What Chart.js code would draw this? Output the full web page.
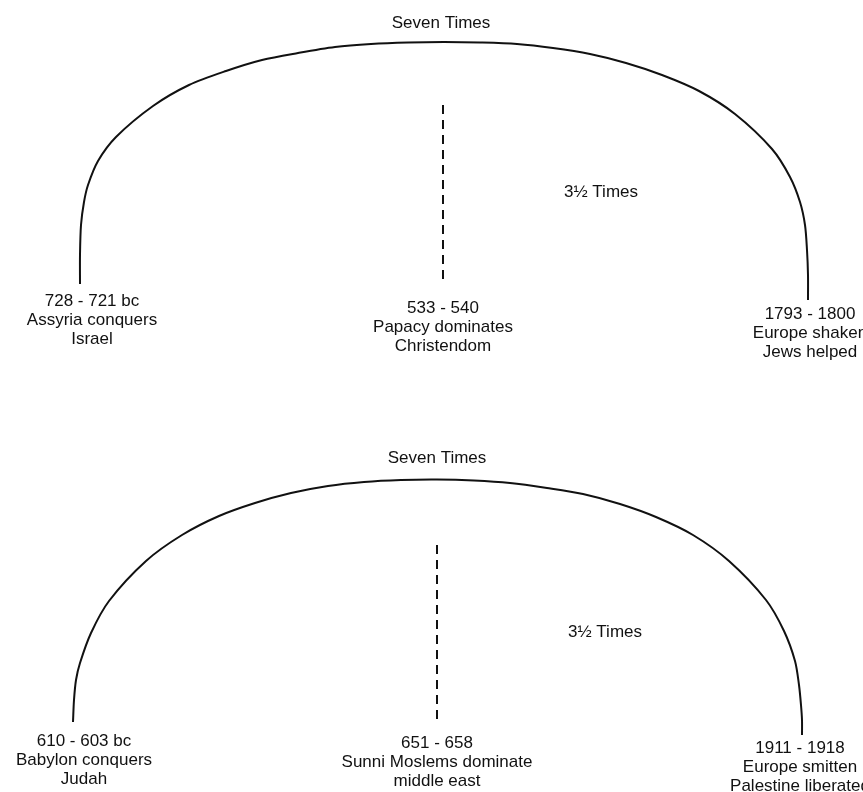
<!DOCTYPE html>
<html>
<head>
<meta charset="utf-8">
<script src="https://cdn.jsdelivr.net/npm/chart.js@4.4.1/dist/chart.umd.min.js"></script>
<style>
    html, body { margin: 0; padding: 0; background: #fff; }
    #wrap { position: relative; width: 863px; height: 792px; }
</style>
</head>
<body>
<div id="wrap"><canvas id="diagram-area"></canvas></div>
<script>
// arcs, x / y in picture units
var topArcX = [80, 80, 81, 84, 88, 98, 116, 153, 189, 226, 262, 298, 335, 371, 408, 444,
    480, 517, 553, 590, 626, 662, 699, 735, 772, 790, 800, 805, 807, 808, 808];
var topArcY = [284, 255, 225, 202, 185, 161, 137, 106, 85, 71, 60, 53, 47, 44, 42.5, 42,
    42.5, 44, 48, 54, 63, 75, 91, 114, 149, 177, 202, 225, 250, 275, 300];
var bottomArcX = [73, 74, 76, 80, 91, 109, 146, 182, 219, 255, 291, 328, 364, 401, 437,
    474, 510, 547, 583, 620, 656, 693, 729, 766, 784, 795, 799, 801, 802, 802];
var bottomArcY = [722, 700, 680, 663, 633, 601, 561, 535, 516, 503, 493, 486, 482, 480, 479.5,
    480.5, 483, 488, 494, 504, 517, 535, 561, 600, 631, 661, 685, 705, 720, 735];

// dashed mid lines
var midLineX = [443, 437];
var midLineTop = [105, 545];
var midLineBottom = [283, 722];

// texts
var titleText = ["Seven Times", "Seven Times"];
var titleX = [441, 437];
var titleY = [23, 458];
var halfText = ["3\u00BD Times", "3\u00BD Times"];
var halfX = [601, 605];
var halfY = [192, 632];

var eventLabels = [
    ["728 - 721 bc", "Assyria conquers", "Israel"],
    ["533 - 540", "Papacy dominates", "Christendom"],
    ["1793 - 1800", "Europe shaken", "Jews helped"],
    ["610 - 603 bc", "Babylon conquers", "Judah"],
    ["651 - 658", "Sunni Moslems dominate", "middle east"],
    ["1911 - 1918", "Europe smitten", "Palestine liberated"]
];
var eventX = [92, 443, 810, 84, 437, 800];
var eventY = [301, 308, 314, 741, 743, 748];

function toPoints(xs, ys) {
    var arr = [];
    for (var i = 0; i < xs.length; i++) {
        arr.push({x: xs[i], y: ys[i]});
    }
    return arr;
}

var inkColor = '#111111';

var datasets = [
    {data: toPoints(topArcX, topArcY), borderColor: inkColor, borderWidth: 2, tension: 0.3, pointRadius: 0, fill: false, showLine: true},
    {data: toPoints(bottomArcX, bottomArcY), borderColor: inkColor, borderWidth: 2, tension: 0.3, pointRadius: 0, fill: false, showLine: true}
];
for (var m = 0; m < midLineX.length; m++) {
    datasets.push({
        data: [{x: midLineX[m], y: midLineTop[m]}, {x: midLineX[m], y: midLineBottom[m]}],
        borderColor: inkColor,
        borderWidth: 2,
        borderDash: [9, 6],
        pointRadius: 0,
        showLine: true
    });
}

var textPlugin = {
    id: 'diagramText',
    afterDatasetsDraw: function (chart) {
        var ctx = chart.ctx;
        var sx = chart.scales.x;
        var sy = chart.scales.y;
        ctx.save();
        ctx.fillStyle = inkColor;
        ctx.textAlign = 'center';
        ctx.textBaseline = 'middle';
        ctx.font = '17px "Liberation Sans", Arial, sans-serif';
        for (var i = 0; i < titleText.length; i++) {
            ctx.fillText(titleText[i], sx.getPixelForValue(titleX[i]), sy.getPixelForValue(titleY[i]));
            ctx.fillText(halfText[i], sx.getPixelForValue(halfX[i]), sy.getPixelForValue(halfY[i]));
        }
        for (var j = 0; j < eventLabels.length; j++) {
            for (var k = 0; k < eventLabels[j].length; k++) {
                ctx.fillText(eventLabels[j][k], sx.getPixelForValue(eventX[j]), sy.getPixelForValue(eventY[j] + k * 19));
            }
        }
        ctx.restore();
    }
};

var configDiagram = {
    type: 'scatter',
    data: {datasets: datasets},
    options: {
        responsive: true,
        maintainAspectRatio: false,
        animation: false,
        layout: {padding: 0},
        plugins: {
            legend: {display: false},
            tooltip: {enabled: false}
        },
        scales: {
            x: {type: 'linear', min: 0, max: 863, display: false},
            y: {type: 'linear', min: 0, max: 792, reverse: true, display: false}
        }
    },
    plugins: [textPlugin]
};

var myDiagram = new Chart(document.getElementById("diagram-area").getContext("2d"), configDiagram);
</script>
</body>
</html>
